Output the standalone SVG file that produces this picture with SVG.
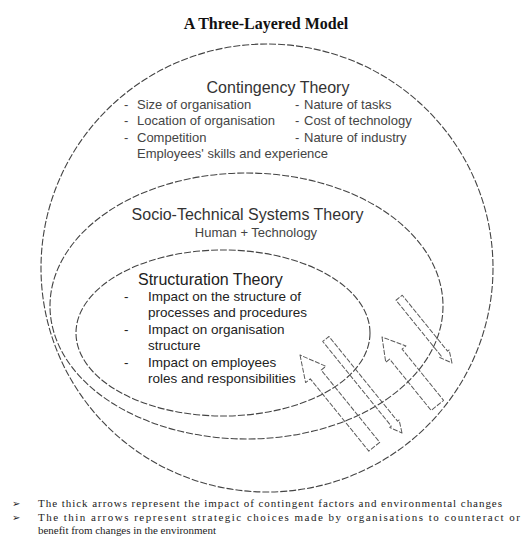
<svg xmlns="http://www.w3.org/2000/svg" width="525" height="560" viewBox="0 0 525 560">
  <style>
    .layer { fill: none; stroke: #444; stroke-width: 1.1; stroke-dasharray: 7 2; }
    .arrow { fill: none; stroke: #5a5a5a; stroke-width: 1; stroke-dasharray: 5 1.5; stroke-linejoin: round; }
    .title { font-family: "Liberation Serif", "Times New Roman", serif; font-weight: bold; font-size: 16px; fill: #111; }
    .head { font-family: "Liberation Sans", Arial, sans-serif; font-size: 16px; fill: #333; }
    .item { font-family: "Liberation Sans", Arial, sans-serif; font-size: 13px; fill: #444; }
    .sitem { font-family: "Liberation Sans", Arial, sans-serif; font-size: 13.5px; fill: #222; }
    .note { font-family: "Liberation Serif", "Times New Roman", serif; font-size: 11px; fill: #222; }
    .bul { font-family: "DejaVu Sans", sans-serif; font-size: 10px; fill: #222; }
  </style>
  <rect width="525" height="560" fill="#fff"/>

  <text class="title" x="266" y="29" text-anchor="middle">A Three-Layered Model</text>

  <!-- Outer layer: contingency factors -->
  <g id="contingency-theory">
    <ellipse class="layer" cx="267" cy="268" rx="226" ry="224"/>
    <text class="head" x="278" y="93" text-anchor="middle">Contingency Theory</text>
    <text class="item" x="124" y="109">-</text>
    <text class="item" x="137" y="109">Size of organisation</text>
    <text class="item" x="124" y="125">-</text>
    <text class="item" x="137" y="125">Location of organisation</text>
    <text class="item" x="124" y="142">-</text>
    <text class="item" x="137" y="142">Competition</text>
    <text class="item" x="137" y="158">Employees' skills and experience</text>
    <text class="item" x="295" y="109">-</text>
    <text class="item" x="304" y="109">Nature of tasks</text>
    <text class="item" x="295" y="125">-</text>
    <text class="item" x="304" y="125">Cost of technology</text>
    <text class="item" x="295" y="142">-</text>
    <text class="item" x="304" y="142">Nature of industry</text>
  </g>

  <!-- Middle layer -->
  <g id="socio-technical-systems-theory">
    <ellipse class="layer" cx="246.5" cy="306" rx="196.5" ry="133"/>
    <text class="head" x="247.5" y="220" text-anchor="middle">Socio-Technical Systems Theory</text>
    <text class="item" x="256" y="237" text-anchor="middle">Human + Technology</text>
  </g>

  <!-- Inner layer -->
  <g id="structuration-theory">
    <ellipse class="layer" cx="223" cy="333" rx="147" ry="83"/>
    <text class="head" x="138" y="285" style="fill:#222">Structuration Theory</text>
    <text class="sitem" x="124" y="301">-</text>
    <text class="sitem" x="148" y="301">Impact on the structure of</text>
    <text class="sitem" x="148" y="317">processes and procedures</text>
    <text class="sitem" x="124" y="334">-</text>
    <text class="sitem" x="148" y="334">Impact on organisation</text>
    <text class="sitem" x="148" y="350">structure</text>
    <text class="sitem" x="124" y="367">-</text>
    <text class="sitem" x="148" y="367">Impact on employees</text>
    <text class="sitem" x="148" y="383">roles and responsibilities</text>
  </g>

  <!-- Arrows: thick = contingent impact (pointing inward), thin = strategic choice (pointing outward) -->
  <g id="connectors">
    <path id="thick-arrow-1" class="arrow" transform="translate(300 355) rotate(231)"
          d="M0,0 L-25,-13 L-25,-7 L-118,-7 L-118,7 L-25,7 L-25,13 Z"/>
    <path id="thick-arrow-2" class="arrow" transform="translate(382 337) rotate(231)"
          d="M0,0 L-22,-13 L-22,-8 L-88,-8 L-88,8 L-22,8 L-22,13 Z"/>
    <path id="thin-arrow-1" class="arrow" transform="translate(402 433) rotate(51)"
          d="M0,0 L-12,-6 L-12,-4 L-121,-4 L-121,4 L-12,4 L-12,6 Z"/>
    <path id="thin-arrow-2" class="arrow" transform="translate(452 363) rotate(51)"
          d="M0,0 L-12,-6 L-12,-4 L-84,-4 L-84,4 L-12,4 L-12,6 Z"/>
  </g>

  <!-- Legend -->
  <g id="legend">
    <text class="bul" x="12" y="507">➢</text>
    <text class="note" x="38" y="507" textLength="464" lengthAdjust="spacing">The thick arrows represent the impact of contingent factors and environmental changes</text>
    <text class="bul" x="12" y="521">➢</text>
    <text class="note" x="38" y="521" textLength="482" lengthAdjust="spacing">The thin arrows represent strategic choices made by organisations to counteract or</text>
    <text class="note" x="38" y="534" textLength="178" lengthAdjust="spacing">benefit from changes in the environment</text>
  </g>
</svg>
